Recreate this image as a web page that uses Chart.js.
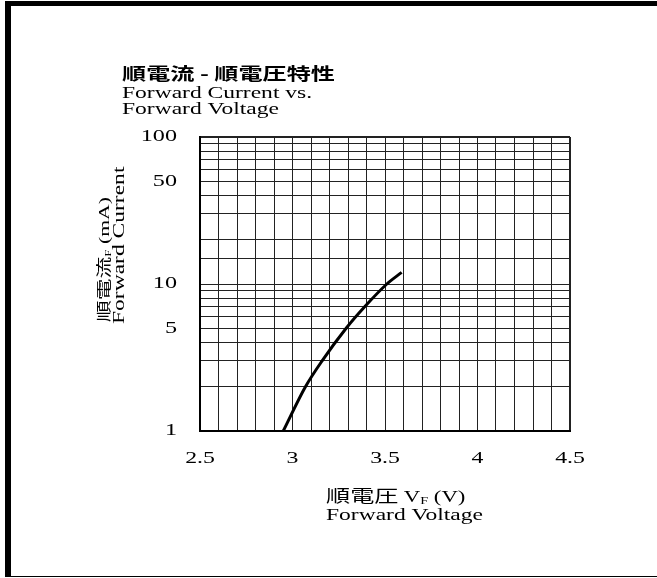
<!DOCTYPE html>
<html>
<head>
<meta charset="utf-8">
<script src="https://cdn.jsdelivr.net/npm/chart.js@4.4.1/dist/chart.umd.min.js"></script>
<style>
  html, body { margin: 0; padding: 0; background: #fff; }
  #wrap { position: relative; width: 657px; height: 578px; }
  #ivChart { position: absolute; left: 0; top: 0; }
  #frame {
    position: absolute; left: 5px; top: 1px; width: 652px; height: 576px;
    box-sizing: border-box; pointer-events: none;
    border-top: 5px solid #000; border-left: 6px solid #000; border-bottom: 1px solid #000;
  }
</style>
</head>
<body>
<div id="wrap">
  <canvas id="ivChart" width="657" height="578"></canvas>
  <div id="frame"></div>
</div>
<script>
// forward voltage (V) vs forward current (mA)
const voltage = [2.95, 3.07, 3.16, 3.29, 3.39, 3.51, 3.59];
const current = [1, 2, 3, 5, 7, 10, 12];

const xTickLabels = [2.5, 3, 3.5, 4, 4.5];
const yTickLabels = [1, 5, 10, 50, 100];

const SERIF = '"Liberation Serif", "Times New Roman", serif';
const CJK = '"Noto Sans CJK JP", sans-serif';

// the datasheet text is set wide, so every run gets a horizontal stretch
function drawRun(ctx, x, y, angle, parts, opts) {
    opts = opts || {};
    ctx.save();
    ctx.translate(x, y);
    ctx.rotate(angle);
    ctx.scale(opts.stretch || 1.45, 1);
    ctx.fillStyle = '#000';
    ctx.textBaseline = opts.baseline || 'alphabetic';
    ctx.textAlign = 'left';
    let total = 0;
    parts.forEach(function (p) {
        ctx.font = p.font;
        total += ctx.measureText(p.text).width;
    });
    let cx = 0;
    if (opts.align === 'center') cx = -total / 2;
    if (opts.align === 'right') cx = -total;
    parts.forEach(function (p) {
        ctx.font = p.font;
        ctx.fillText(p.text, cx, p.dy || 0);
        cx += ctx.measureText(p.text).width;
    });
    ctx.restore();
}

const sheetText = {
    id: 'sheetText',
    afterDraw(chart) {
        const ctx = chart.ctx;
        const xs = chart.scales.x;
        const ys = chart.scales.y;
        const area = chart.chartArea;

        xTickLabels.forEach(function (v) {
            drawRun(ctx, xs.getPixelForValue(v), area.bottom + 32, 0,
                [{ text: String(v), font: '17px ' + SERIF }], { align: 'center', stretch: 1.4 });
        });
        yTickLabels.forEach(function (v) {
            drawRun(ctx, area.left - 23, ys.getPixelForValue(v), 0,
                [{ text: String(v), font: '17px ' + SERIF }], { align: 'right', baseline: 'middle', stretch: 1.42 });
        });

        // title block
        drawRun(ctx, 122, 80, 0, [{ text: '順電流 - 順電圧特性', font: 'bold 17px ' + CJK }], { stretch: 1.42 });
        drawRun(ctx, 122, 98, 0, [{ text: 'Forward Current vs.', font: '16px ' + SERIF }], { stretch: 1.47 });
        drawRun(ctx, 122, 114, 0, [{ text: 'Forward Voltage', font: '16px ' + SERIF }], { stretch: 1.47 });

        // x axis title
        drawRun(ctx, 326, 502, 0, [
            { text: '順電圧 ', font: '17px ' + CJK },
            { text: 'V', font: '16px ' + SERIF },
            { text: 'F', font: '10px ' + SERIF, dy: 2 },
            { text: ' (V)', font: '16px ' + SERIF }
        ], { stretch: 1.42 });
        drawRun(ctx, 326, 520, 0, [{ text: 'Forward Voltage', font: '16px ' + SERIF }], { stretch: 1.47 });

        // y axis title, rotated
        drawRun(ctx, 109, 322, -Math.PI / 2, [
            { text: '順電流', font: '15px ' + CJK },
            { text: 'F', font: '9px ' + SERIF, dy: 2 },
            { text: ' (mA)', font: '15px ' + SERIF }
        ], { stretch: 1.45 });
        drawRun(ctx, 124, 324, -Math.PI / 2, [{ text: 'Forward Current', font: '16px ' + SERIF }], { stretch: 1.47 });
    }
};

function edgeWidth(c) {
    return (c.index === 0 || c.index === c.scale.ticks.length - 1) ? 2 : 1;
}

const ctx = document.getElementById('ivChart').getContext('2d');

new Chart(ctx, {
    type: 'line',
    data: {
        datasets: [
            {
                label: 'IF',
                data: voltage.map(function (v, i) { return { x: v, y: current[i] }; }),
                borderColor: '#000',
                borderWidth: 3,
                pointRadius: 0,
                fill: false,
                cubicInterpolationMode: 'monotone'
            }
        ]
    },
    options: {
        responsive: false,
        animation: false,
        layout: { padding: { left: 200, right: 87, top: 137, bottom: 147 } },
        plugins: {
            legend: { display: false },
            tooltip: { enabled: false }
        },
        scales: {
            x: {
                type: 'linear',
                min: 2.5,
                max: 4.5,
                ticks: { display: false, stepSize: 0.1 },
                grid: { color: '#222', lineWidth: edgeWidth, drawTicks: false },
                border: { color: '#000', width: 2 },
                afterFit: function (s) { s.height = 0; }
            },
            y: {
                type: 'logarithmic',
                min: 1,
                max: 100,
                ticks: { display: false },
                grid: { color: '#222', lineWidth: edgeWidth, drawTicks: false },
                border: { color: '#000', width: 2 },
                afterFit: function (s) { s.width = 0; }
            }
        }
    },
    plugins: [sheetText]
});
</script>
</body>
</html>
